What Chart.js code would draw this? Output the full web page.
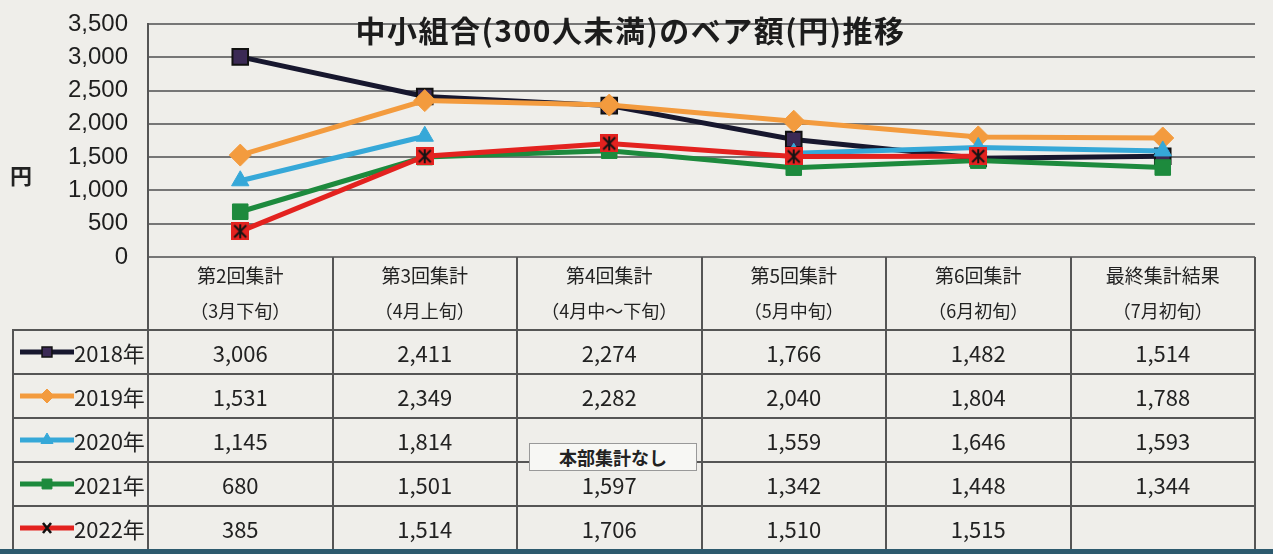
<!DOCTYPE html>
<html lang="ja">
<head>
<meta charset="utf-8">
<script src="https://cdn.jsdelivr.net/npm/chart.js@4.4.1/dist/chart.umd.min.js"></script>
<style>
    body {
        margin: 0;
        width: 1273px;
        height: 554px;
        background: #efeeea;
        position: relative;
        overflow: hidden;
        font-family: "Noto Sans CJK JP", sans-serif;
        color: #222;
    }
    #chartWrap { position: absolute; left: 0; top: 0; width: 1273px; height: 270px; }
    #title {
        position: absolute; left: -6px; width: 1273px; top: 9px;
        text-align: center; font-size: 30px; font-weight: bold; line-height: 40px;
        color: #1c1c1c; letter-spacing: 1.5px;
    }
    #yTitle { position: absolute; left: 10px; top: 158px; font-size: 22px; font-weight: bold; }
    .ln { position: absolute; background: #555; }
    .cell {
        position: absolute; text-align: center; white-space: nowrap;
        font-family: "Liberation Sans Narrow", "Noto Sans CJK JP", sans-serif; font-size: 22px;
    }
    .head { font-family: "Noto Sans CJK JP", sans-serif; font-size: 19px; }
    .head2 { font-family: "Noto Sans CJK JP", sans-serif; font-size: 18px; }
    .key { position: absolute; }
    #note {
        position: absolute; left: 529px; top: 443px; width: 166px; height: 26px;
        border: 1px solid #999; background: #f7f7f4; text-align: center;
        font-size: 18px; font-weight: bold; line-height: 26px;
    }
    #strip { position: absolute; left: 0; top: 549px; width: 1273px; height: 5px; background: #2d5a6e; }
</style>
</head>
<body>
<div id="chartWrap"><canvas id="beaChart" width="1273" height="270"></canvas></div>
<div id="title">中小組合(300人未満)のベア額(円)推移</div>
<div id="yTitle">円</div>
<div id="table"></div>
<div id="strip"></div>
<script>
// 集計回と時期
const rounds = ['第2回集計', '第3回集計', '第4回集計', '第5回集計', '第6回集計', '最終集計結果'];
const periods = ['（3月下旬）', '（4月上旬）', '（4月中～下旬）', '（5月中旬）', '（6月初旬）', '（7月初旬）'];
const years = ['2018年', '2019年', '2020年', '2021年', '2022年'];

// ベア額（円）
const bea2018 = [3006, 2411, 2274, 1766, 1482, 1514];
const bea2019 = [1531, 2349, 2282, 2040, 1804, 1788];
const bea2020 = [1145, 1814, null, 1559, 1646, 1593];
const bea2021 = [680, 1501, 1597, 1342, 1448, 1344];
const bea2022 = [385, 1514, 1706, 1510, 1515, null];

const yMin = 0;
const yMax = 3500;
const yStep = 500;

function crossMarker() {
    const c = document.createElement('canvas');
    c.width = 18;
    c.height = 18;
    const g = c.getContext('2d');
    g.fillStyle = '#e3221f';
    g.fillRect(0, 0, 18, 18);
    g.strokeStyle = '#141414';
    g.lineWidth = 2;
    g.beginPath();
    g.moveTo(3, 3); g.lineTo(15, 15);
    g.moveTo(15, 3); g.lineTo(3, 15);
    g.moveTo(9, 2); g.lineTo(9, 16);
    g.stroke();
    return c;
}

const series = [
    { label: years[0], data: bea2018, color: '#17172e', fill: '#3b2a55', style: 'rect', radius: 11 },
    { label: years[1], data: bea2019, color: '#f39b3e', fill: '#f39b3e', style: 'rectRot', radius: 11 },
    { label: years[2], data: bea2020, color: '#36a8d8', fill: '#36a8d8', style: 'triangle', radius: 10 },
    { label: years[3], data: bea2021, color: '#1d8a3d', fill: '#1d8a3d', style: 'rect', radius: 11 },
    { label: years[4], data: bea2022, color: '#e3221f', fill: '#e3221f', style: crossMarker(), radius: 9 }
];

const chart = new Chart(document.getElementById('beaChart'), {
    type: 'line',
    data: {
        labels: rounds,
        datasets: series.map((s, i) => ({
            label: s.label,
            data: s.data,
            borderColor: s.color,
            backgroundColor: s.fill,
            borderWidth: 5,
            pointStyle: s.style,
            pointRadius: s.radius,
            pointBackgroundColor: s.fill,
            pointBorderColor: i === 0 ? '#111' : s.fill,
            pointBorderWidth: i === 0 ? 2 : 1,
            spanGaps: false,
            tension: 0,
            order: 4 - i
        }))
    },
    options: {
        responsive: false,
        maintainAspectRatio: false,
        animation: false,
        layout: { padding: { top: 24, right: 18, bottom: 4, left: 0 } },
        plugins: {
            legend: { display: false },
            tooltip: { enabled: false }
        },
        scales: {
            x: {
                display: false,
                offset: true
            },
            y: {
                min: yMin,
                max: yMax,
                afterFit: (scale) => {
                    scale.width = 148;
                    scale.paddingTop = 0;
                    scale.paddingBottom = 0;
                },
                ticks: {
                    stepSize: yStep,
                    autoSkip: false,
                    padding: 20,
                    color: '#1e1e1e',
                    font: { family: 'Liberation Sans', size: 24 },
                    callback: (v) => v.toLocaleString('en-US')
                },
                grid: {
                    color: '#767676',
                    lineWidth: 2,
                    drawTicks: false
                },
                border: { display: true, color: '#555', width: 2 }
            }
        }
    }
});

// データテーブル（列は x 軸から）
const area = chart.chartArea;
const colW = (area.right - area.left) / rounds.length;
const table = document.getElementById('table');
const top0 = Math.round(area.bottom);
const headH = 330 - top0;
const rowH = 44;
const tableBottom = 554;

function line(x, y, w, h) {
    const d = document.createElement('div');
    d.className = 'ln';
    d.style.left = x + 'px';
    d.style.top = y + 'px';
    d.style.width = w + 'px';
    d.style.height = h + 'px';
    table.appendChild(d);
}

function cell(x, y, w, h, text, cls) {
    const d = document.createElement('div');
    d.className = 'cell' + (cls ? ' ' + cls : '');
    d.style.left = x + 'px';
    d.style.top = y + 'px';
    d.style.width = w + 'px';
    d.style.height = h + 'px';
    d.style.lineHeight = h + 'px';
    d.textContent = text;
    table.appendChild(d);
}

// 罫線
for (let r = 0; r <= years.length; r++) {
    line(12, top0 + headH + r * rowH - 1, area.right - 12, 2);
}
for (let c = 0; c <= rounds.length; c++) {
    line(Math.round(area.left + c * colW) - 1, top0, 2, tableBottom - top0);
}
line(12, top0 + headH, 2, tableBottom - top0 - headH);

// 見出し
rounds.forEach((r, c) => {
    const x = area.left + c * colW;
    cell(x, 258, colW, 34, r, 'head');
    cell(x, 293, colW, 34, periods[c], 'head2');
});

// 行
series.forEach((s, r) => {
    const y = top0 + headH + r * rowH;
    const key = document.createElement('canvas');
    key.className = 'key';
    key.width = 58;
    key.height = 20;
    key.style.left = '18px';
    key.style.top = (y + 12) + 'px';
    const g = key.getContext('2d');
    g.strokeStyle = s.color;
    g.lineWidth = 5;
    g.beginPath();
    g.moveTo(2, 10);
    g.lineTo(56, 10);
    g.stroke();
    g.fillStyle = s.fill;
    g.strokeStyle = r === 0 ? '#111' : s.fill;
    g.lineWidth = r === 0 ? 1.5 : 1;
    Chart.helpers.drawPoint(g, {
        pointStyle: typeof s.style === 'string' ? s.style : 'crossRot',
        radius: r === 4 ? 6 : 7,
        borderWidth: 1
    }, 29, 10);
    if (r === 4) {
        g.strokeStyle = '#111';
        g.lineWidth = 2.5;
        g.beginPath();
        g.moveTo(25, 5); g.lineTo(33, 15);
        g.moveTo(33, 5); g.lineTo(25, 15);
        g.stroke();
    }
    table.appendChild(key);
    cell(74, y, 70, rowH, s.label);
    s.data.forEach((v, c) => {
        if (v === null) return;
        cell(area.left + c * colW, y, colW, rowH, v.toLocaleString('en-US'));
    });
});
</script>
<div id="note">本部集計なし</div>
</body>
</html>
